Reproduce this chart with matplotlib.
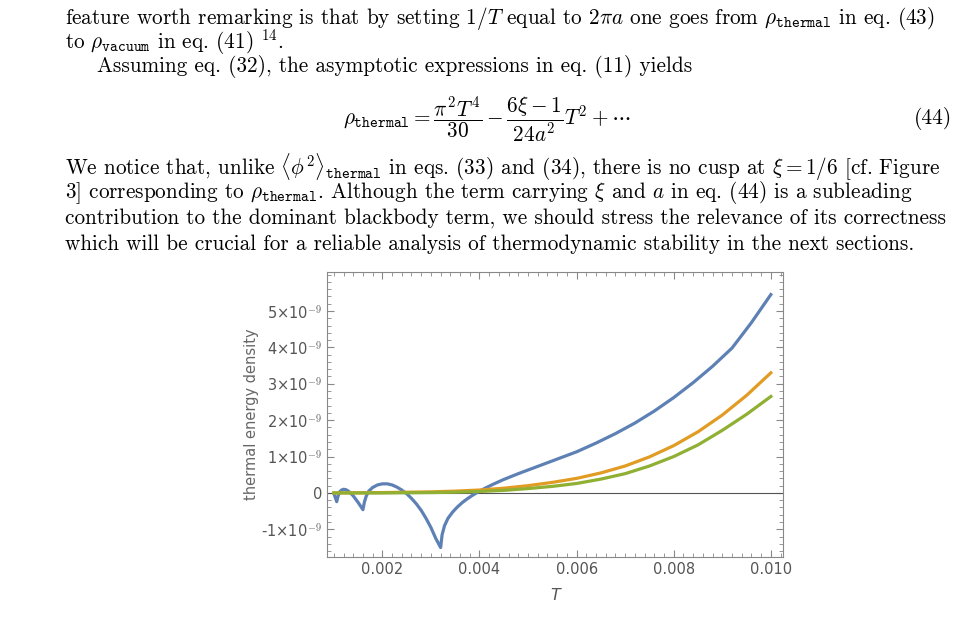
import matplotlib
matplotlib.use("Agg")
import matplotlib.pyplot as plt
from matplotlib.ticker import MultipleLocator, FixedLocator

plt.rcParams['mathtext.fontset'] = 'cm'
plt.rcParams['axes.unicode_minus'] = False

T_blue = [0.00100, 0.00102, 0.00104, 0.00106, 0.00108, 0.00112, 0.00116, 0.00120, 0.00125, 0.00130,
          0.00135, 0.00140, 0.00145, 0.00150, 0.00155, 0.00160,
          0.00163, 0.00167, 0.00172, 0.00180, 0.00190, 0.00200, 0.00210, 0.00220, 0.00230,
          0.00240, 0.00250, 0.00260, 0.00270, 0.00280, 0.00290, 0.00300, 0.00310, 0.00316, 0.00320,
          0.00323, 0.00328, 0.00335, 0.00345, 0.00355, 0.00365, 0.00375, 0.00385, 0.00395,
          0.00410, 0.00430, 0.00450, 0.00480, 0.00510, 0.00540, 0.00570, 0.00600, 0.00640,
          0.00680, 0.00720, 0.00760, 0.00800, 0.00840, 0.00880, 0.00920, 0.00960, 0.01000]
y_blue = [-0.02, -0.08, -0.16, -0.24, -0.12, 0.03, 0.08, 0.10, 0.09, 0.05,
          -0.01, -0.08, -0.17, -0.26, -0.36, -0.46,
          -0.25, -0.08, 0.05, 0.15, 0.22, 0.25, 0.25, 0.22, 0.16,
          0.08, -0.02, -0.15, -0.30, -0.48, -0.70, -0.95, -1.25, -1.40, -1.50,
          -1.15, -0.90, -0.70, -0.52, -0.38, -0.26, -0.16, -0.07, 0.01,
          0.12, 0.25, 0.37, 0.53, 0.68, 0.83, 0.98, 1.13, 1.37,
          1.63, 1.92, 2.25, 2.62, 3.03, 3.48, 3.98, 4.50, 5.45 - 0.0]
T_curve = [0.0010, 0.0020, 0.0030, 0.0035, 0.0040, 0.0045, 0.0050, 0.0055, 0.0060, 0.0065, 0.0070,
           0.0075, 0.0080, 0.0085, 0.0090, 0.0095, 0.0100]
y_orange = [0.0, 0.01, 0.03, 0.05, 0.08, 0.13, 0.20, 0.29, 0.40, 0.55, 0.74, 0.99, 1.30, 1.68, 2.14, 2.68, 3.30]
y_green = [0.0, 0.0, 0.01, 0.02, 0.04, 0.07, 0.12, 0.18, 0.26, 0.38, 0.53, 0.74, 1.00, 1.32, 1.72, 2.16, 2.65]
yticks = [-1, 0, 1, 2, 3, 4, 5]
xticks = [0.002, 0.004, 0.006, 0.008, 0.010]

# smooth the tail of the blue curve point list (last segment)
y_blue[-2] = 4.68

fig = plt.figure(figsize=(9.61, 6.42), dpi=100)
W, H = 961, 642
serif = ['cmr10', 'DejaVu Serif']
fs = 15.3
def t(x, y, s, **kw):
    fig.text(x / W, 1 - y / H, s, fontsize=fs, family=serif, va='center', **kw)

t(65, 18, r"feature worth remarking is that by setting $1/T$ equal to $2\pi a$ one goes from $\rho_{\mathtt{thermal}}$ in eq. (43)")
t(65, 42, r"to $\rho_{\mathtt{vacuum}}$ in eq. (41) $^{14}$.")
t(97, 67, r"Assuming eq. (32), the asymptotic expressions in eq. (11) yields")
t(343, 119, r"$\rho_{\mathtt{thermal}} = \dfrac{\pi^2 T^4}{30} - \dfrac{6\xi-1}{24a^2}T^2 + \cdots$")
t(952, 119, "(44)", ha='right')
t(65, 167, r"We notice that, unlike $\langle\phi^2\rangle_{\mathtt{thermal}}$ in eqs. (33) and (34), there is no cusp at $\xi=1/6$ [cf. Figure")
t(65, 193, r"3] corresponding to $\rho_{\mathtt{thermal}}$. Although the term carrying $\xi$ and $a$ in eq. (44) is a subleading")
t(65, 218, r"contribution to the dominant blackbody term, we should stress the relevance of its correctness")
t(65, 244, r"which will be crucial for a reliable analysis of thermodynamic stability in the next sections.")

ax = fig.add_axes([327 / W, 1 - 557 / H, (783 - 327) / W, (557 - 272) / H])
lw = 2.3
ax.plot(T_blue, [v * 1e-9 for v in y_blue], color='#5E81B5', lw=lw, zorder=3)
ax.plot(T_curve, [v * 1e-9 for v in y_orange], color='#E19C24', lw=lw, zorder=3)
ax.plot(T_curve, [v * 1e-9 for v in y_green], color='#8FB032', lw=lw, zorder=4)
ax.axhline(0, color='#555555', lw=0.8, zorder=2)
ax.set_xlim(0.00086, 0.01025)
ax.set_ylim(-1.76e-9, 6.07e-9)
ax.xaxis.set_major_locator(FixedLocator(xticks))
ax.set_xticklabels([f"{v:.3f}" for v in xticks])
ax.xaxis.set_minor_locator(MultipleLocator(0.0002))
ax.yaxis.set_major_locator(FixedLocator([v * 1e-9 for v in yticks]))
ax.set_yticklabels([("0" if v == 0 else f"{'-' if v < 0 else ''}{abs(v)}\u00d710$^{{\\mathsf{{-9}}}}$") for v in yticks])
ax.yaxis.set_minor_locator(MultipleLocator(0.2e-9))
for sp in ax.spines.values():
    sp.set_color('#888888')
ax.tick_params(which='both', direction='in', top=True, right=True, colors='#888888', labelcolor='#555555', labelsize=10.5)
ax.tick_params(which='major', length=5)
ax.tick_params(which='minor', length=3)
ax.set_xlabel("T", color='#555555', fontsize=11.5, style='italic', labelpad=8)
ax.set_ylabel("thermal energy density", color='#666666', fontsize=10.5, labelpad=2)
fig.savefig("out.png", dpi=100)
